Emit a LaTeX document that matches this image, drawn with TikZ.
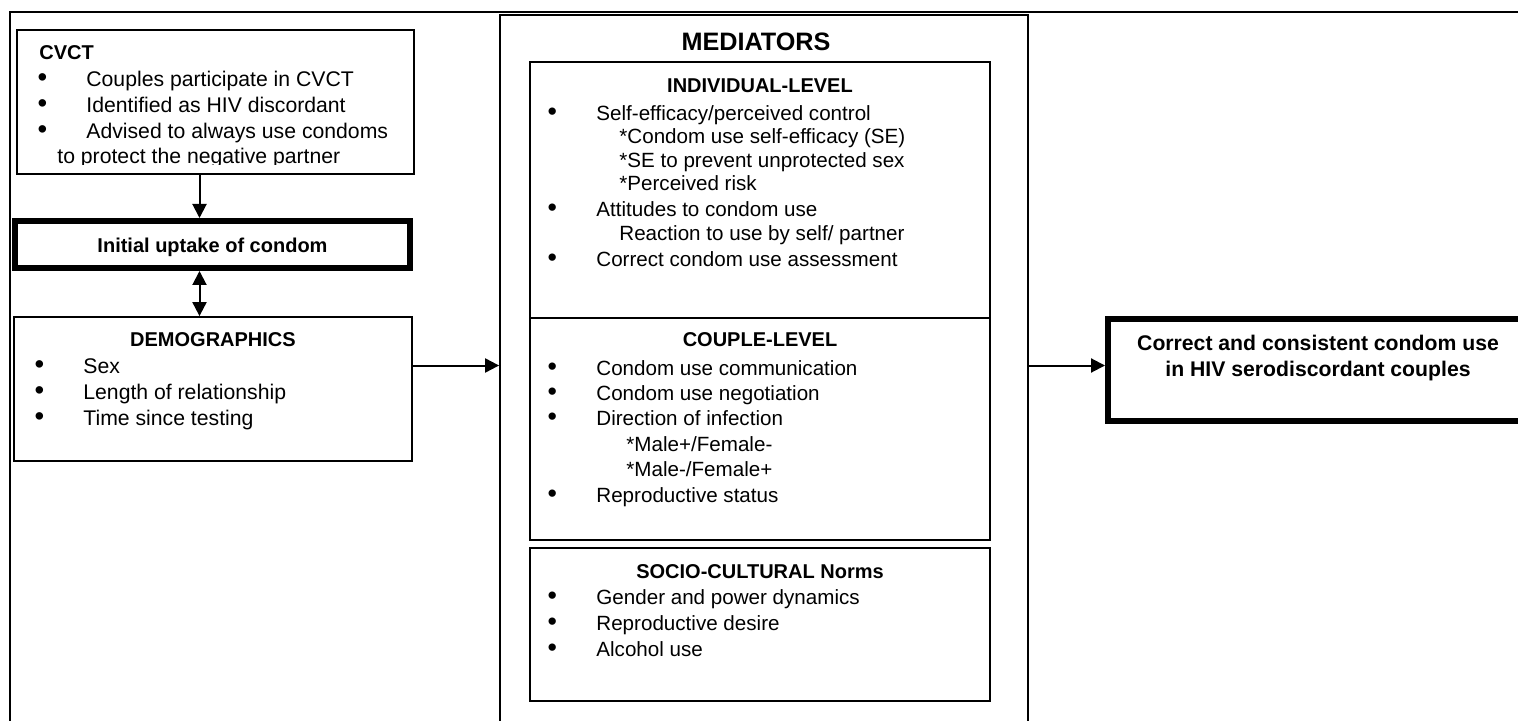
\documentclass[tikz,border=0pt]{standalone}
\usepackage{fontspec}
\usepackage{graphicx}
\setmainfont{Liberation Sans}
\usetikzlibrary{arrows.meta,fit}
\newcommand{\bul}{\llap{\makebox[0pt][c]{\scalebox{1.3}{\textbullet}}\hspace{22pt}}}

\begin{document}
\begin{tikzpicture}[x=0.5pt,y=-0.5pt,
	box/.style={draw,line width=0.9pt,inner sep=0pt},
	thickbox/.style={draw,line width=2.8pt,inner sep=0pt},
	txt/.style={inner sep=0pt,anchor=base west,align=left},
	head/.style={inner sep=0pt,anchor=base,align=center},
	big/.style={font=\fontsize{10.6pt}{12.85pt}\selectfont},
	small/.style={font=\fontsize{10.3pt}{12.7pt}\selectfont},
	arr/.style={line width=1pt,-{Triangle[length=7pt,width=7pt]}},
	arrboth/.style={line width=1pt,{Triangle[length=7pt,width=7pt]}-{Triangle[length=7pt,width=7pt]}}]
			\clip (0,0) rectangle (1518,721);

			% Outer frame
			\draw[line width=0.9pt] (10,12) rectangle (1540,760);

			% Left column
			\node[box, fit={(17,30) (414,174)}] (cvct) {};
			\node[thickbox, fit={(14.8,220.8) (410.2,268.2)}] (uptake) {};
			\node[box, fit={(14,317) (412,461)}] (demo) {};

			% Mediators
			\node[box, fit={(500,15) (1028,760)}] (med) {};
			\node[box, fit={(530,62) (990,318)}] (indiv) {};
			\node[box, fit={(530,318) (990,540)}] (couple) {};
			\node[box, fit={(530,548) (990,701)}] (socio) {};

			% Outcome
			\node[thickbox, fit={(1107.8,318.8) (1530,421.2)}] (outcome) {};

			% Texts (multi-line nodes sit on their last baseline)
			\node[txt, big, font=\bfseries] (cvcthead) at (39,59.3) {CVCT};
			\begin{scope}
				\clip (17,30) rectangle (414,165);
				\node[txt, big] (cvcttext) at (86,164) {\bul Couples participate in CVCT\\
					\bul Identified as HIV discordant\\
					\bul Advised to always use condoms\\
					\hspace*{-14.5pt}to protect the negative partner};
			\end{scope}
			\node[head, big, font=\bfseries] (uptaketext) at (212.5,253) {Initial uptake of condom};
			\node[head, big, font=\bfseries] (demohead) at (213,346.7) {DEMOGRAPHICS};
			\node[txt, font=\fontsize{10.6pt}{13.1pt}\selectfont] (demotext) at (83,425.7) {\bul Sex\\
				\bul Length of relationship\\
				\bul Time since testing};

			\node[head, font=\fontsize{12.6pt}{15pt}\selectfont\bfseries] (medhead) at (756,50.7) {MEDIATORS};
			\node[head, small, font=\bfseries] (indivhead) at (760,92.7) {INDIVIDUAL-LEVEL};
			\node[txt, font=\fontsize{10.3pt}{11.75pt}\selectfont] (indivtext) at (596,267) {\bul Self-efficacy/perceived control\\
				\hspace*{11.5pt}*Condom use self-efficacy (SE)\\
				\hspace*{11.5pt}*SE to prevent unprotected sex\\
				\hspace*{11.5pt}*Perceived risk\\[1.25pt]
				\bul Attitudes to condom use\\
				\hspace*{11.5pt}Reaction to use by self/ partner\\[1.5pt]
				\bul Correct condom use assessment};
			\node[head, small, font=\bfseries] (couplehead) at (760,346.7) {COUPLE-LEVEL};
			\node[txt, small] (coupletext) at (596,502) {\bul Condom use communication\\
				\bul Condom use negotiation\\
				\bul Direction of infection\\
				\hspace*{15pt}*Male+/Female-\\
				\hspace*{15pt}*Male-/Female+\\
				\bul Reproductive status};
			\node[head, small, font=\bfseries] (sociohead) at (760,578.3) {SOCIO-CULTURAL Norms};
			\node[txt, font=\fontsize{10.3pt}{13.1pt}\selectfont] (sociotext) at (596,656.5) {\bul Gender and power dynamics\\
				\bul Reproductive desire\\
				\bul Alcohol use};

			\node[head, font=\fontsize{10.6pt}{13pt}\selectfont\bfseries] (outcometext) at (1318,376) {Correct and consistent condom use\\in HIV serodiscordant couples};

			% Connectors
			\coordinate (ax) at (199.5,0);
			\coordinate (ay) at (0,365.5);
			\draw[arr] (cvct.south -| ax) -- (uptake.north -| ax);
			\draw[arrboth] (uptake.south -| ax) -- (demo.north -| ax);
			\draw[arr] (demo.east |- ay) -- (med.west |- ay);
			\draw[arr] (med.east |- ay) -- (outcome.west |- ay);

		\end{tikzpicture}
\end{document}
